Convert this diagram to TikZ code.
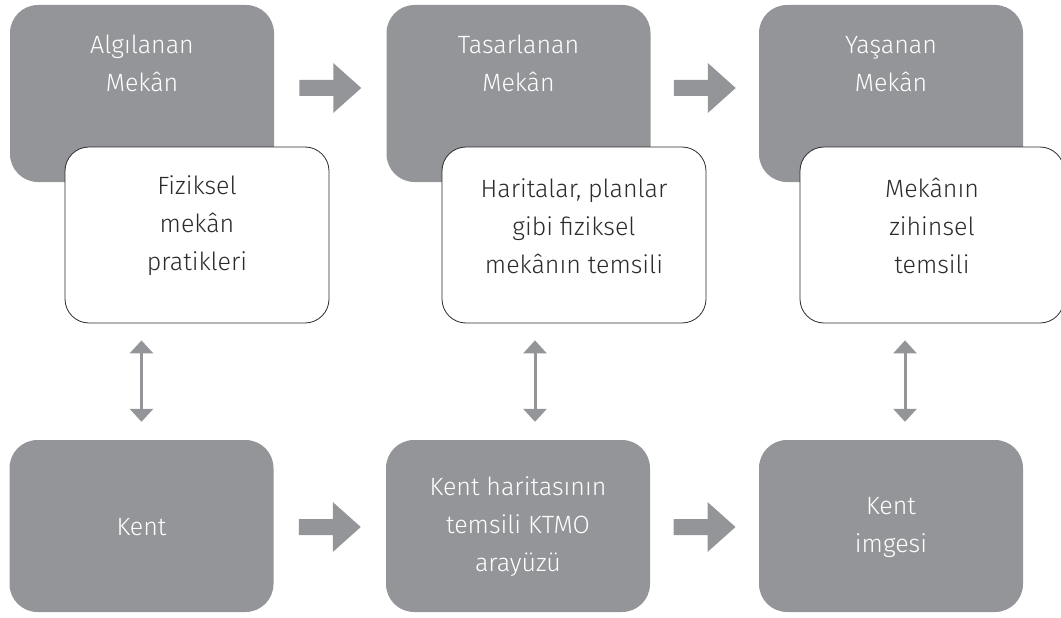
\documentclass[tikz,border=0pt]{standalone}
\usepackage{fontspec}
\setmainfont{Fira Sans Light}
\usetikzlibrary{arrows.meta,calc}
\definecolor{boxgray}{HTML}{939598}
\definecolor{txtdark}{HTML}{2B2B2B}
\begin{document}
\begin{tikzpicture}[x=1pt,y=-1pt,
  graybox/.style={fill=boxgray, rounded corners=28pt, minimum width=264pt, minimum height=177pt, inner sep=0pt},
  bottombox/.style={graybox, minimum height=172pt},
  whitebox/.style={fill=white, draw=txtdark, line width=0.8pt, rounded corners=24pt, minimum width=264pt, minimum height=176pt, inner sep=0pt},
  lighttxt/.style={text=white, align=center, font=\fontsize{25}{38}\selectfont, inner sep=0pt},
  darktxt/.style={text=txtdark, align=center, font=\fontsize{25}{38}\selectfont, inner sep=0pt},
  dbl/.style={{Triangle[width=23pt,length=13pt]}-{Triangle[width=23pt,length=13pt]}, draw=boxgray, line width=3pt},
  blockarrow/.pic={\fill[boxgray] (-31,-8) -- (3,-8) -- (3,-25) -- (31,0) -- (3,25) -- (3,8) -- (-31,8) -- cycle;}
]
\useasboundingbox (0,0) rectangle (1061,618);
% top gray boxes
\node[graybox] (g1) at (142,93.5) {};
\node[graybox] (g2) at (518.5,93.5) {};
\node[graybox] (g3) at (891,93.5) {};
% white boxes
\node[whitebox] (w1) at (197,235) {};
\node[whitebox] (w2) at (574,235) {};
\node[whitebox] (w3) at (932,235) {};
% bottom boxes
\node[bottombox] (b1) at (141.5,526) {};
\node[bottombox] (b2) at (518,526) {};
\node[bottombox] (b3) at (891,526) {};
% texts
\node[lighttxt] (t1) at ($(g1.north)+(0,59)$) {Algılanan\\Mekân};
\node[lighttxt] (t2) at ($(g2.north)+(0,59)$) {Tasarlanan\\Mekân};
\node[lighttxt] (t3) at ($(g3.north)+(0,59)$) {Yaşanan\\Mekân};
\node[darktxt] (u1) at ($(w1.center)+(0,-9)$) {Fiziksel\\mekân\\pratikleri};
\node[darktxt] (u2) at ($(w2.center)+(0,-9)$) {Haritalar, planlar\\gibi fiziksel\\mekânın temsili};
\node[darktxt] (u3) at ($(w3.center)+(0,-9)$) {Mekânın\\zihinsel\\temsili};
\node[lighttxt] (v1) at ($(b1.center)+(0,1)$) {Kent};
\node[lighttxt] (v2) at ($(b2.center)+(0,1)$) {Kent haritasının\\temsili KTMO\\arayüzü};
\node[lighttxt] (v3) at ($(b3.center)+(0,1)$) {Kent\\imgesi};
% block arrows
\coordinate (a1) at ($(g1.east)!0.5!(g2.west)+(0,-5.5)$);
\coordinate (a2) at ($(g2.east)!0.5!(g3.west)+(0,-5.5)$);
\coordinate (a3) at ($(b1.east)!0.5!(b2.west)+(0,1)$);
\coordinate (a4) at ($(b2.east)!0.5!(b3.west)+(0,1)$);
\pic at (a1) {blockarrow};
\pic at (a2) {blockarrow};
\pic at (a3) {blockarrow};
\pic at (a4) {blockarrow};
% double arrows
\draw[dbl, shorten <=17pt, shorten >=18pt] (b1.north |- w1.south) -- (b1.north);
\draw[dbl, shorten <=17pt, shorten >=18pt] ($(b2.north |- w2.south)+(17,0)$) -- ($(b2.north)+(17,0)$);
\draw[dbl, shorten <=17pt, shorten >=18pt] ($(b3.north |- w3.south)+(14,0)$) -- ($(b3.north)+(14,0)$);
\end{tikzpicture}
\end{document}
